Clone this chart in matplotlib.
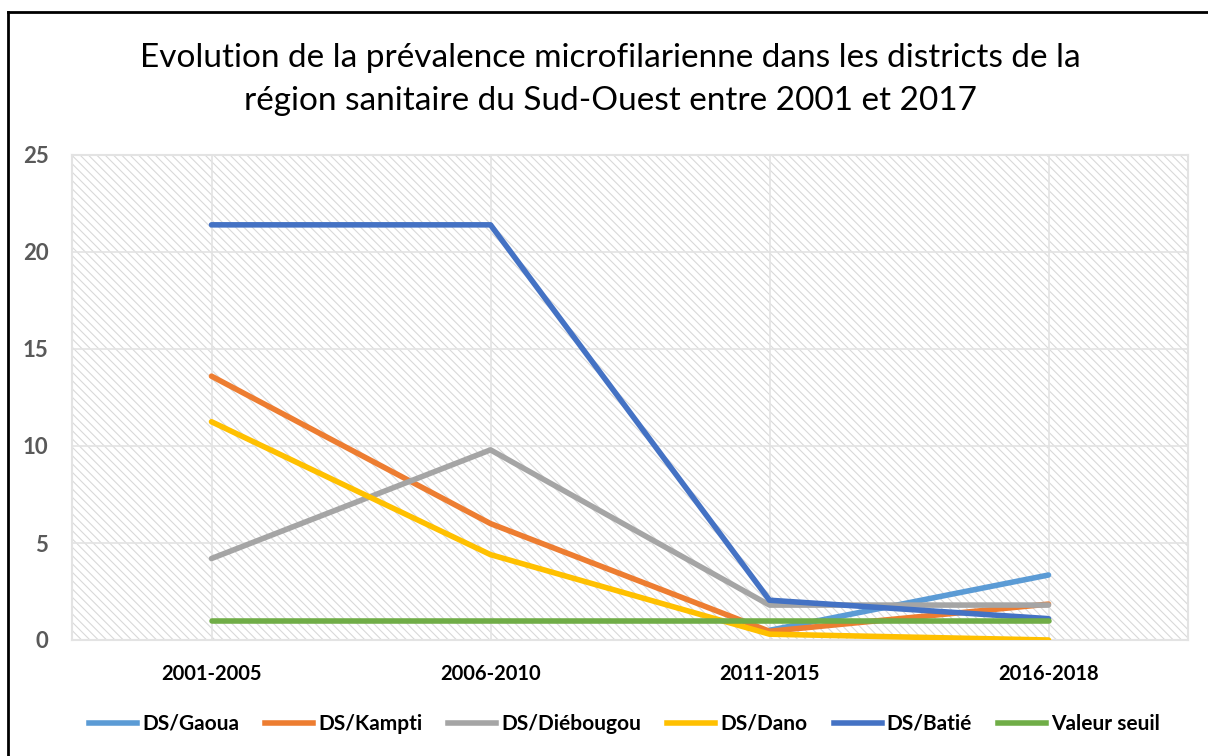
import numpy as np
import matplotlib.pyplot as plt
from matplotlib.lines import Line2D

plt.rcParams['font.family'] = ['Lato', 'DejaVu Sans']
plt.rcParams['hatch.linewidth'] = 0.8

# data
periods = ["2001-2005", "2006-2010", "2011-2015", "2016-2018"]
gaoua = [np.nan, np.nan, 0.5, 3.35]
kampti = [13.6, 6.0, 0.45, 1.85]
diebougou = [4.2, 9.8, 1.8, 1.8]
dano = [11.25, 4.4, 0.3, 0.0]
batie = [21.4, 21.4, 2.05, 1.1]
seuil = [1.0, 1.0, 1.0, 1.0]

series = [
    ("DS/Gaoua", gaoua, "#5B9BD5"),
    ("DS/Kampti", kampti, "#ED7D31"),
    ("DS/Diébougou", diebougou, "#A5A5A5"),
    ("DS/Dano", dano, "#FFC000"),
    ("DS/Batié", batie, "#4472C4"),
    ("Valeur seuil", seuil, "#70AD47"),
]

fig = plt.figure(figsize=(12.08, 7.56), dpi=100)
ax = fig.add_axes([72/1208, 1 - 640/756, (1188-72)/1208, (640-155)/756])

x = np.arange(len(periods))

# hatched plot area
ax.set_facecolor("white")
ax.fill_between([-0.5, 3.5], 0, 25, facecolor="white", edgecolor="#D9D9D9",
                hatch="\\\\\\\\", linewidth=0, zorder=0)

for name, vals, col in series:
    ax.plot(x, vals, color=col, linewidth=4, solid_capstyle="round", label=name, zorder=3)

ax.set_xlim(-0.5, 3.5)
ax.set_ylim(0, 25)
ax.set_yticks(np.arange(0, 26, 5))
ax.set_xticks(x)
ax.set_xticklabels(periods, fontsize=14.5, fontweight="bold", color="black")
for lab in ax.get_yticklabels():
    lab.set_fontsize(16)
    lab.set_fontweight("bold")
    lab.set_color("#595959")
ax.tick_params(axis="both", length=0)
ax.tick_params(axis="x", pad=17)
ax.tick_params(axis="y", pad=17)
ax.grid(True, color="#E3E3E3", linewidth=1.2, zorder=1)
ax.set_axisbelow(True)
for s in ax.spines.values():
    s.set_color("#E3E3E3")
    s.set_linewidth(1.5)

fig.text(0.505, 1 - 58/756, "Evolution de la prévalence microfilarienne dans les districts de la",
         ha="center", va="center", fontsize=24)
fig.text(0.505, 1 - 101/756, "région sanitaire du Sud-Ouest entre 2001 et 2017",
         ha="center", va="center", fontsize=24)

handles = [Line2D([0], [0], color=c, linewidth=4) for _, _, c in series]
fig.legend(handles, [n for n, _, _ in series], loc="center", bbox_to_anchor=(0.517, 1 - 724/756),
           ncol=6, frameon=False, handlelength=2.3, handletextpad=0.25, columnspacing=1.25,
           prop={"weight": "bold", "size": 15})

# outer chart frame
fig.add_artist(Line2D([8/1208, 8/1208], [0, 1 - 12/756], color="black", linewidth=2,
                      transform=fig.transFigure))
fig.add_artist(Line2D([8/1208, 1], [1 - 12/756, 1 - 12/756], color="black", linewidth=2,
                      transform=fig.transFigure))

fig.savefig("out.png", dpi=100)
